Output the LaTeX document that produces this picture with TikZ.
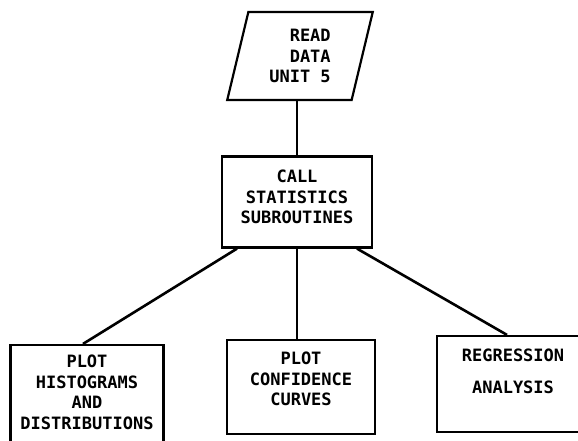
\documentclass[tikz,border=0pt]{standalone}
\usepackage{fontspec}
\newfontfamily\plotfont{DejaVu Sans Mono}
\usetikzlibrary{shapes.geometric}
\tikzset{
    flowbox/.style={draw, line width=2.2pt, minimum width=150pt, minimum height=94pt,
        align=center, font=\plotfont\bfseries\fontsize{17}{20.5}\selectfont},
    iobox/.style={flowbox, trapezium, trapezium left angle=77, trapezium right angle=103,
        trapezium stretches=true, minimum width=146pt, minimum height=88pt, align=right},
    link/.style={line width=2.6pt}
}
\begin{document}
\begin{tikzpicture}[x=1pt,y=-1pt]
            \useasboundingbox (0,0) rectangle (578,440);
            \clip (0,0) rectangle (578,440);
            \path (300,56) node [iobox] (read) {READ\\DATA\\UNIT 5};
            \path (297,202) node [flowbox, minimum height=91pt, text depth=10pt] (call)
                {CALL\\STATISTICS\\SUBROUTINES};
            \path (87,400) node [flowbox, minimum width=153pt, minimum height=110pt, text depth=16pt] (hist)
                {PLOT\\HISTOGRAMS\\AND\\DISTRIBUTIONS};
            \path (301,387) node [flowbox, minimum width=148pt, text depth=16pt] (conf)
                {PLOT\\CONFIDENCE\\CURVES};
            \path (513,384) node [flowbox, minimum width=152pt, minimum height=96pt, text depth=26pt] (regr)
                {REGRESSION\\[11pt]ANALYSIS};

            \draw [link] (call.north |- read.south) -- (call.north);
            \draw [link] ([xshift=-60pt]call.south) -- ([xshift=-4pt]hist.north);
            \draw [link] (call.south) -- (call.south |- conf.north);
            \draw [link] ([xshift=60pt]call.south) -- ([xshift=-6pt]regr.north);
        \end{tikzpicture}
\end{document}
